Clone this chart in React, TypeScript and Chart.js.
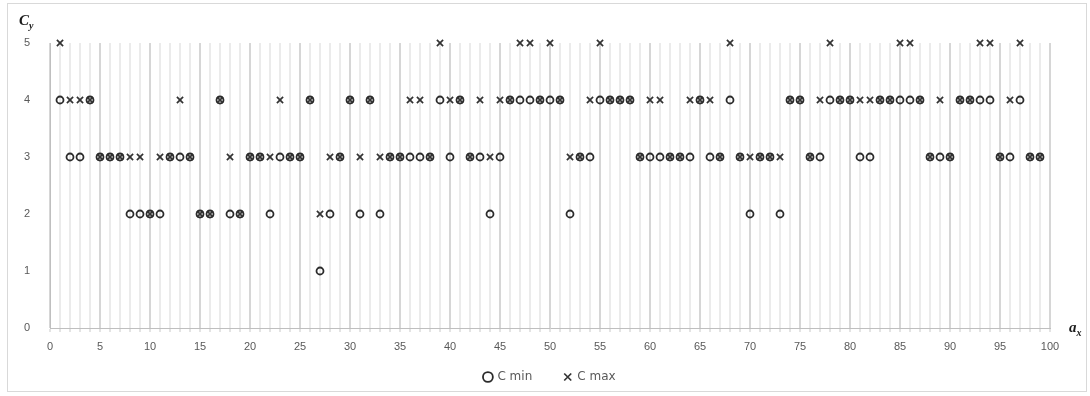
import { useEffect, useRef } from 'react';
import { Chart, registerables } from 'chart.js';

Chart.register(...registerables);

// a_x values (categories along the horizontal axis)
const aX = [
  1, 2, 3, 4, 5, 6, 7, 8, 9, 10,
  11, 12, 13, 14, 15, 16, 17, 18, 19, 20,
  21, 22, 23, 24, 25, 26, 27, 28, 29, 30,
  31, 32, 33, 34, 35, 36, 37, 38, 39, 40,
  41, 42, 43, 44, 45, 46, 47, 48, 49, 50,
  51, 52, 53, 54, 55, 56, 57, 58, 59, 60,
  61, 62, 63, 64, 65, 66, 67, 68, 69, 70,
  71, 72, 73, 74, 75, 76, 77, 78, 79, 80,
  81, 82, 83, 84, 85, 86, 87, 88, 89, 90,
  91, 92, 93, 94, 95, 96, 97, 98, 99,
];

// C min series
const cMin = [
  4, 3, 3, 4, 3, 3, 3, 2, 2, 2,
  2, 3, 3, 3, 2, 2, 4, 2, 2, 3,
  3, 2, 3, 3, 3, 4, 1, 2, 3, 4,
  2, 4, 2, 3, 3, 3, 3, 3, 4, 3,
  4, 3, 3, 2, 3, 4, 4, 4, 4, 4,
  4, 2, 3, 3, 4, 4, 4, 4, 3, 3,
  3, 3, 3, 3, 4, 3, 3, 4, 3, 2,
  3, 3, 2, 4, 4, 3, 3, 4, 4, 4,
  3, 3, 4, 4, 4, 4, 4, 3, 3, 3,
  4, 4, 4, 4, 3, 3, 4, 3, 3,
];

// C max series
const cMax = [
  5, 4, 4, 4, 3, 3, 3, 3, 3, 2,
  3, 3, 4, 3, 2, 2, 4, 3, 2, 3,
  3, 3, 4, 3, 3, 4, 2, 3, 3, 4,
  3, 4, 3, 3, 3, 4, 4, 3, 5, 4,
  4, 3, 4, 3, 4, 4, 5, 5, 4, 5,
  4, 3, 3, 4, 5, 4, 4, 4, 3, 4,
  4, 3, 3, 4, 4, 4, 3, 5, 3, 3,
  3, 3, 3, 4, 4, 3, 4, 5, 4, 4,
  4, 4, 4, 4, 5, 5, 4, 3, 4, 3,
  4, 4, 5, 5, 3, 4, 5, 3, 3,
];

const seriesNames = ['C min', 'C max'];
const xMin = 0;
const xMax = 100;
const xLabelEvery = 5;
const yMin = 0;
const yMax = 5;
const yTitle = ['C', 'y'];
const xTitle = ['a', 'x'];

const axisTitles = {
  id: 'axisTitles',
  afterLayout(chart: any) {
    const l = chart.legend;
    if (l) {
      l.top -= 24;
      l.bottom -= 24;
    }
  },
  afterDraw(chart: any) {
    const ctx = chart.ctx;
    const area = chart.chartArea;
    const draw = (parts: string[], x: number, y: number) => {
      ctx.save();
      ctx.fillStyle = '#1a1a1a';
      ctx.textBaseline = 'alphabetic';
      ctx.textAlign = 'left';
      ctx.font = 'italic bold 15px "Liberation Serif"';
      ctx.fillText(parts[0], x, y);
      const w = ctx.measureText(parts[0]).width;
      ctx.font = 'italic bold 10px "Liberation Serif"';
      ctx.fillText(parts[1], x + w, y + 4);
      ctx.restore();
    };
    draw(yTitle, area.left - 31, area.top - 18);
    draw(xTitle, area.right + 19, area.bottom + 4);
  },
};

export default function App() {
  const ref = useRef<HTMLCanvasElement | null>(null);

  useEffect(() => {
    if (!ref.current) return;
    const chart = new Chart(ref.current, {
      type: 'scatter',
      data: {
        datasets: [
          {
            label: seriesNames[0],
            data: aX.map((x, i) => ({ x, y: cMin[i] })),
            pointStyle: 'circle',
            pointRadius: 3.5,
            pointHoverRadius: 3.5,
            borderWidth: 1.8,
            borderColor: '#2b2b2b',
            backgroundColor: 'rgba(255,255,255,0)',
            clip: false,
          },
          {
            label: seriesNames[1],
            data: aX.map((x, i) => ({ x, y: cMax[i] })),
            pointStyle: 'crossRot',
            pointRadius: 4.4,
            pointHoverRadius: 4.4,
            borderWidth: 1.7,
            borderColor: '#333333',
            backgroundColor: '#333333',
            clip: false,
          },
        ],
      },
      options: {
        animation: false,
        responsive: false,
        layout: { padding: { top: 43, right: 40, bottom: -21, left: 0 } },
        plugins: {
          legend: {
            position: 'bottom',
            fullSize: false,
            labels: {
              usePointStyle: true,
              boxWidth: 7,
              boxHeight: 7,
              padding: 32,
              color: '#595959',
              font: { size: 12, family: '"DejaVu Sans", sans-serif' },
            },
          },
          tooltip: { enabled: false },
        },
        scales: {
          x: {
            type: 'linear',
            min: xMin,
            max: xMax,
            afterFit: (s: any) => {
              s.height = 35;
            },
            ticks: {
              stepSize: 1,
              autoSkip: false,
              maxRotation: 0,
              padding: 8,
              color: '#595959',
              font: { size: 11, family: '"Liberation Sans", Arial, sans-serif' },
              callback: (v: any) => (Number(v) % xLabelEvery === 0 ? String(v) : ''),
            },
            grid: {
              color: (c: any) =>
                c.tick && c.tick.value % xLabelEvery === 0 ? '#d6d6d6' : '#ebebeb',
              lineWidth: 2,
              drawTicks: true,
              tickLength: 4,
              tickColor: '#c8c8c8',
              tickWidth: 1,
            },
            border: { display: true, color: '#bfbfbf', width: 1 },
          },
          y: {
            type: 'linear',
            min: yMin,
            max: yMax,
            afterFit: (s: any) => {
              s.width = 50;
            },
            ticks: {
              stepSize: 1,
              padding: 12,
              color: '#595959',
              font: { size: 11, family: '"Liberation Sans", Arial, sans-serif' },
            },
            grid: { display: false },
            border: { display: true, color: '#bfbfbf', width: 1 },
          },
        },
      },
      plugins: [axisTitles],
    });
    return () => chart.destroy();
  }, []);

  return (
    <div style={{ position: 'absolute', left: 0, top: 0, width: 1090, height: 396, background: '#fff' }}>
      <div
        style={{
          position: 'absolute',
          left: 7,
          top: 3,
          width: 1080,
          height: 389,
          border: '1px solid #d9d9d9',
          boxSizing: 'border-box',
        }}
      />
      <canvas ref={ref} width={1090} height={396} style={{ position: 'absolute', left: 0, top: 0 }} />
    </div>
  );
}
